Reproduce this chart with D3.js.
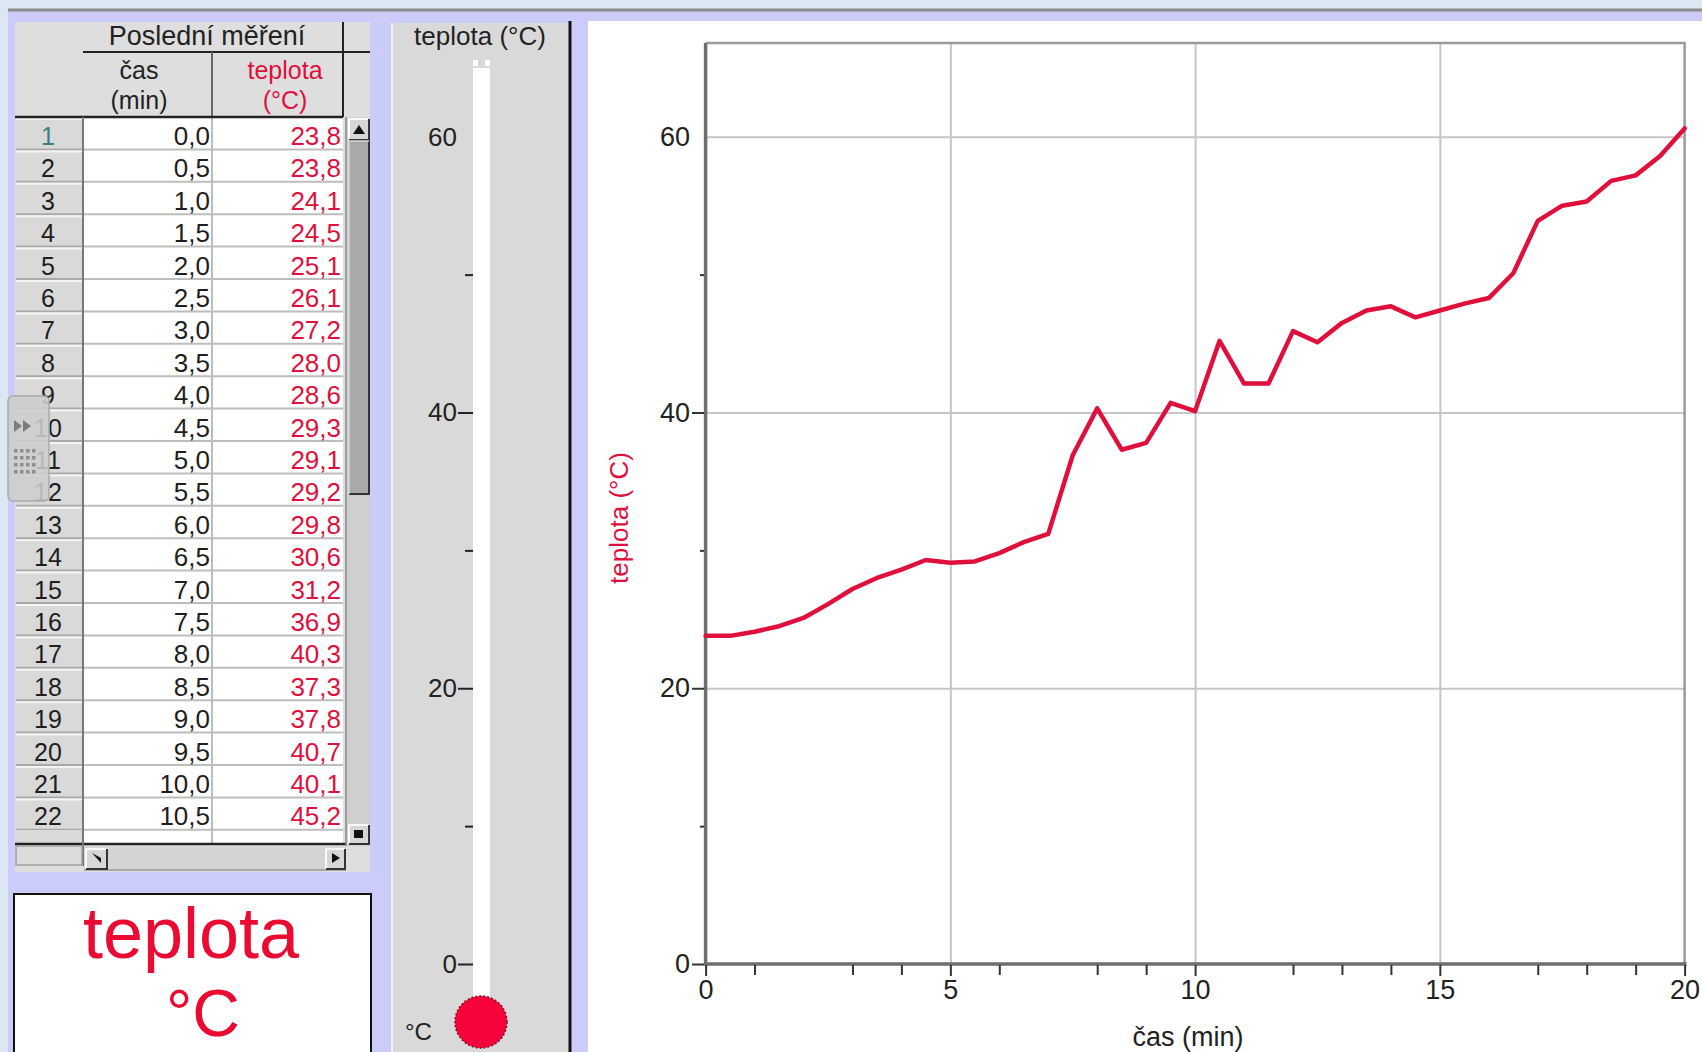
<!DOCTYPE html>
<html>
<head>
<meta charset="utf-8">
<script src="https://cdn.jsdelivr.net/npm/d3@7"></script>
<style>
  body { margin: 0; background: #ccccfa; }
  text { font-family: "Liberation Sans", Arial, sans-serif; }
</style>
</head>
<body>
<svg id="app" width="1702" height="1052"></svg>
<script>
// measured series: time (min) and temperature (°C)
const times = [0.0, 0.5, 1.0, 1.5, 2.0, 2.5, 3.0, 3.5, 4.0, 4.5, 5.0, 5.5, 6.0, 6.5, 7.0, 7.5, 8.0, 8.5, 9.0, 9.5,
               10.0, 10.5, 11.0, 11.5, 12.0, 12.5, 13.0, 13.5, 14.0, 14.5, 15.0, 15.5, 16.0, 16.5, 17.0, 17.5,
               18.0, 18.5, 19.0, 19.5, 20.0];
const temps = [23.8, 23.8, 24.1, 24.5, 25.1, 26.1, 27.2, 28.0, 28.6, 29.3, 29.1, 29.2, 29.8, 30.6, 31.2, 36.9,
               40.3, 37.3, 37.8, 40.7, 40.1, 45.2, 42.1, 42.1, 45.9, 45.1, 46.5, 47.4, 47.7, 46.9, 47.4, 47.9,
               48.3, 50.1, 53.9, 55.0, 55.3, 56.8, 57.2, 58.6, 60.6];
const visibleRows = 22;

const xTicks = [0, 5, 10, 15, 20];
const xMinorTicks = [1, 3, 4, 6, 8, 9, 12, 13, 14, 17, 18, 19];
const yTicks = [0, 20, 40, 60];
const yMinorTicks = [10, 30, 50];
const xGrid = [5, 10, 15];
const yGrid = [20, 40, 60];

const RED = "#e0103c";
const cz = d3.formatLocale({ decimal: ",", thousands: " ", grouping: [3], currency: ["", ""] });
const fmt = cz.format(".1f");

const svg = d3.select("#app");

// ---- page background
svg.append("rect").attr("width", 1702).attr("height", 1052).attr("fill", "#dce7f4");
svg.append("rect").attr("x", 8).attr("y", 11).attr("width", 1694).attr("height", 1041).attr("fill", "#ccccfa");
svg.append("line").attr("x1", 8).attr("x2", 1702).attr("y1", 10).attr("y2", 10)
    .attr("stroke", "#8c8c8c").attr("stroke-width", 3);

// ---- table panel
const tb = svg.append("g");
const rowH = 32.4, bodyTop = 117;
tb.append("rect").attr("x", 15).attr("y", 22).attr("width", 355).attr("height", 850).attr("fill", "#dedede");
tb.append("rect").attr("x", 83).attr("y", bodyTop).attr("width", 260).attr("height", 727).attr("fill", "#fff");

tb.append("text").attr("x", 207).attr("y", 45).attr("text-anchor", "middle")
    .style("font-size", "27px").attr("fill", "#222").text("Poslední měření");
tb.append("text").attr("x", 139).attr("y", 79).attr("text-anchor", "middle")
    .style("font-size", "25px").attr("fill", "#222").text("čas");
tb.append("text").attr("x", 139).attr("y", 109).attr("text-anchor", "middle")
    .style("font-size", "25px").attr("fill", "#222").text("(min)");
tb.append("text").attr("x", 285).attr("y", 79).attr("text-anchor", "middle")
    .style("font-size", "25px").attr("fill", RED).text("teplota");
tb.append("text").attr("x", 285).attr("y", 109).attr("text-anchor", "middle")
    .style("font-size", "25px").attr("fill", RED).text("(°C)");

tb.append("line").attr("x1", 83).attr("x2", 370).attr("y1", 52).attr("y2", 52).attr("stroke", "#222").attr("stroke-width", 2);
tb.append("line").attr("x1", 343).attr("x2", 343).attr("y1", 22).attr("y2", 117).attr("stroke", "#222").attr("stroke-width", 2);
tb.append("line").attr("x1", 212).attr("x2", 212).attr("y1", 52).attr("y2", 117).attr("stroke", "#666").attr("stroke-width", 2);
tb.append("line").attr("x1", 212).attr("x2", 212).attr("y1", 117).attr("y2", 844).attr("stroke", "#bdbdbd").attr("stroke-width", 2);

const rowData = d3.range(visibleRows).map(i => ({ n: i + 1, t: times[i], v: temps[i] }));
const rows = tb.append("g").selectAll("g").data(rowData).enter().append("g")
    .attr("transform", (d, i) => `translate(0,${bodyTop + i * rowH})`);
rows.append("rect").attr("x", 16).attr("y", 1).attr("width", 66).attr("height", rowH - 2).attr("fill", "#d9d9d9");
rows.append("line").attr("x1", 16).attr("x2", 82).attr("y1", 2).attr("y2", 2).attr("stroke", "#f4f4f4").attr("stroke-width", 2);
rows.append("line").attr("x1", 16).attr("x2", 82).attr("y1", rowH).attr("y2", rowH).attr("stroke", "#a8a8a8").attr("stroke-width", 2);
rows.append("line").attr("x1", 83).attr("x2", 343).attr("y1", rowH).attr("y2", rowH).attr("stroke", "#bdbdbd").attr("stroke-width", 2);
rows.append("text").attr("x", 48).attr("y", 28).attr("text-anchor", "middle").style("font-size", "25px")
    .attr("fill", d => d.n === 1 ? "#3a8080" : "#1e1e1e").text(d => d.n);
rows.append("text").attr("x", 210).attr("y", 28).attr("text-anchor", "end").style("font-size", "26px")
    .attr("fill", "#1e1e1e").text(d => fmt(d.t));
rows.append("text").attr("x", 341).attr("y", 28).attr("text-anchor", "end").style("font-size", "26px")
    .attr("fill", RED).text(d => fmt(d.v));

tb.append("rect").attr("x", 16).attr("y", 830).attr("width", 66).attr("height", 13).attr("fill", "#d9d9d9");
tb.append("line").attr("x1", 15).attr("x2", 343).attr("y1", 117).attr("y2", 117).attr("stroke", "#222").attr("stroke-width", 2.5);
tb.append("line").attr("x1", 15).attr("x2", 346).attr("y1", 844).attr("y2", 844).attr("stroke", "#222").attr("stroke-width", 2.5);
tb.append("line").attr("x1", 83).attr("x2", 83).attr("y1", 117).attr("y2", 866).attr("stroke", "#777").attr("stroke-width", 2);
tb.append("rect").attr("x", 16).attr("y", 846).attr("width", 66).attr("height", 19)
    .attr("fill", "#dcdcdc").attr("stroke", "#a0a0a0").attr("stroke-width", 1.5);

// vertical scrollbar
tb.append("rect").attr("x", 347).attr("y", 117).attr("width", 23).attr("height", 729).attr("fill", "#cfcfcf");
tb.append("line").attr("x1", 346).attr("x2", 346).attr("y1", 117).attr("y2", 846).attr("stroke", "#888").attr("stroke-width", 1.5);
function button(g, x0, y0, w, h) {
  g.append("rect").attr("x", x0).attr("y", y0).attr("width", w).attr("height", h).attr("fill", "#d6d6d6");
  g.append("path").attr("d", `M${x0},${y0 + h}V${y0}H${x0 + w}`).attr("fill", "none").attr("stroke", "#fafafa").attr("stroke-width", 2);
  g.append("path").attr("d", `M${x0},${y0 + h}H${x0 + w}V${y0}`).attr("fill", "none").attr("stroke", "#333").attr("stroke-width", 2);
}
button(tb, 349, 119, 20, 21);
tb.append("path").attr("d", "M353,134L359,125L365,134Z").attr("fill", "#111");
tb.append("rect").attr("x", 349).attr("y", 141).attr("width", 20).attr("height", 353).attr("fill", "#a9a9a9");
tb.append("path").attr("d", "M349,494H369V141").attr("fill", "none").attr("stroke", "#333").attr("stroke-width", 2);
tb.append("path").attr("d", "M349,494V141H369").attr("fill", "none").attr("stroke", "#d8d8d8").attr("stroke-width", 1.5);
button(tb, 349, 825, 20, 19);
tb.append("rect").attr("x", 354).attr("y", 830).attr("width", 9).attr("height", 8).attr("fill", "#111");

// horizontal scrollbar
tb.append("rect").attr("x", 84).attr("y", 847).attr("width", 262).attr("height", 23).attr("fill", "#d4d4d4");
tb.append("line").attr("x1", 84).attr("x2", 346).attr("y1", 870).attr("y2", 870).attr("stroke", "#999").attr("stroke-width", 1.5);
button(tb, 86, 849, 21, 20);
tb.append("path").attr("d", "M92,853L101,858L101,863Z").attr("fill", "#111");
button(tb, 326, 849, 19, 20);
tb.append("path").attr("d", "M332,853L340,858L332,863Z").attr("fill", "#111");

// overlay tab widget on the left edge
const ov = svg.append("g");
ov.append("rect").attr("x", 8).attr("y", 396).attr("width", 41).attr("height", 105).attr("rx", 5)
    .attr("fill", "#cdcdcd").attr("fill-opacity", 0.88).attr("stroke", "#aaa").attr("stroke-width", 1.5);
ov.append("path").attr("d", "M14,420L22,426L14,432ZM23,420L31,426L23,432Z").attr("fill", "#7c7c7c");
ov.append("g").selectAll("rect").data(d3.range(16)).enter().append("rect")
    .attr("x", d => 14 + (d % 4) * 6).attr("y", d => 449 + Math.floor(d / 4) * 7)
    .attr("width", 3.5).attr("height", 3.5).attr("fill", "#8e8e8e");

// ---- big value box
svg.append("rect").attr("x", 14).attr("y", 894).attr("width", 357).attr("height", 170)
    .attr("fill", "#fff").attr("stroke", "#111").attr("stroke-width", 2);
svg.append("text").attr("x", 191).attr("y", 958).attr("text-anchor", "middle")
    .style("font-size", "72px").attr("fill", "#ea0a32").text("teplota");
svg.append("text").attr("x", 203).attr("y", 1036).attr("text-anchor", "middle")
    .style("font-size", "66px").attr("fill", "#ea0a32").text("°C");

// ---- scales
const x = d3.scaleLinear().domain([0, 20]).range([705.6, 1684.6]);
const y = d3.scaleLinear().domain([0, 66.8]).range([964, 43]);

// ---- thermometer panel
const th = svg.append("g");
th.append("rect").attr("x", 393).attr("y", 23).attr("width", 176).attr("height", 1029).attr("fill", "#d9d9d9");
th.append("line").attr("x1", 392).attr("x2", 392).attr("y1", 23).attr("y2", 1052).attr("stroke", "#f2f2f2").attr("stroke-width", 2);
th.append("line").attr("x1", 570).attr("x2", 570).attr("y1", 21).attr("y2", 1052).attr("stroke", "#111").attr("stroke-width", 3);
th.append("text").attr("x", 480).attr("y", 45).attr("text-anchor", "middle")
    .style("font-size", "26px").attr("fill", "#222").text("teplota (°C)");
th.append("rect").attr("x", 473).attr("y", 68).attr("width", 17).attr("height", 935).attr("fill", "#fff");
th.append("rect").attr("x", 473).attr("y", 60).attr("width", 5).attr("height", 6).attr("fill", "#fff");
th.append("rect").attr("x", 485).attr("y", 60).attr("width", 5).attr("height", 6).attr("fill", "#fff");
th.append("circle").attr("cx", 481).attr("cy", 1022).attr("r", 26)
    .attr("fill", "#f6033b").attr("stroke", "#7a1020").attr("stroke-width", 1.5).attr("stroke-dasharray", "2,2");
th.append("text").attr("x", 405).attr("y", 1040).style("font-size", "24px").attr("fill", "#222").text("°C");

const thAxis = th.append("g").attr("transform", "translate(473,0)")
    .call(d3.axisLeft(y).tickValues(yTicks).tickSize(15).tickPadding(1));
thAxis.select(".domain").remove();
thAxis.selectAll(".tick").filter(d => d === 60).select("line").remove();
thAxis.selectAll("line").attr("stroke", "#222").attr("stroke-width", 2);
thAxis.selectAll("text").style("font-size", "26px").attr("fill", "#222");
const thMinor = th.append("g").attr("transform", "translate(473,0)")
    .call(d3.axisLeft(y).tickValues(yMinorTicks).tickSize(8).tickFormat(""));
thMinor.select(".domain").remove();
thMinor.selectAll("line").attr("stroke", "#222").attr("stroke-width", 2);

// ---- chart panel
const ch = svg.append("g");
ch.append("rect").attr("x", 588).attr("y", 21).attr("width", 1114).attr("height", 1031).attr("fill", "#fff");

// grid
const gx = ch.append("g").attr("transform", "translate(0,964)")
    .call(d3.axisBottom(x).tickValues(xGrid).tickSize(-(964 - 43)).tickFormat(""));
gx.select(".domain").remove();
gx.selectAll("line").attr("stroke", "#c6c6c6").attr("stroke-width", 2);
const gy = ch.append("g").attr("transform", "translate(705.6,0)")
    .call(d3.axisLeft(y).tickValues(yGrid).tickSize(-(1684.6 - 705.6)).tickFormat(""));
gy.select(".domain").remove();
gy.selectAll("line").attr("stroke", "#c6c6c6").attr("stroke-width", 2);

// frame
ch.append("path").attr("d", `M${x(0)},${y(66.8)}H${x(20)}V${y(0)}`)
    .attr("fill", "none").attr("stroke", "#9a9a9a").attr("stroke-width", 2.5);
ch.append("path").attr("d", `M${x(0)},${y(66.8)}V${y(0)}H${x(20) + 2}`)
    .attr("fill", "none").attr("stroke", "#6e6e6e").attr("stroke-width", 3.5);

// data line
const line = d3.line().x((d, i) => x(times[i])).y(d => y(d));
ch.append("path").datum(temps).attr("d", line)
    .attr("fill", "none").attr("stroke", RED).attr("stroke-width", 4.5)
    .attr("stroke-linejoin", "round").attr("stroke-linecap", "round");

// axes
const xa = ch.append("g").attr("transform", "translate(0,965)")
    .call(d3.axisBottom(x).tickValues(xTicks).tickSize(11).tickPadding(4));
xa.select(".domain").remove();
xa.selectAll("line").attr("stroke", "#333").attr("stroke-width", 2);
xa.selectAll("text").style("font-size", "27px").attr("fill", "#222");
const xm = ch.append("g").attr("transform", "translate(0,965)")
    .call(d3.axisBottom(x).tickValues(xMinorTicks).tickSize(10).tickFormat(""));
xm.select(".domain").remove();
xm.selectAll("line").attr("stroke", "#333").attr("stroke-width", 2);

const ya = ch.append("g").attr("transform", "translate(704,0)")
    .call(d3.axisLeft(y).tickValues(yTicks).tickSize(12).tickPadding(2));
ya.select(".domain").remove();
ya.selectAll(".tick").filter(d => d === 60).select("line").remove();
ya.selectAll("line").attr("stroke", "#333").attr("stroke-width", 2);
ya.selectAll("text").style("font-size", "27px").attr("fill", "#222");
const ym = ch.append("g").attr("transform", "translate(704,0)")
    .call(d3.axisLeft(y).tickValues(yMinorTicks).tickSize(4).tickFormat(""));
ym.select(".domain").remove();
ym.selectAll("line").attr("stroke", "#333").attr("stroke-width", 2);

ch.append("text").attr("x", 1188).attr("y", 1046).attr("text-anchor", "middle")
    .style("font-size", "27px").attr("fill", "#222").text("čas (min)");
ch.append("text").attr("transform", "translate(628,518) rotate(-90)").attr("text-anchor", "middle")
    .style("font-size", "26px").attr("fill", RED).text("teplota (°C)");
</script>
</body>
</html>
